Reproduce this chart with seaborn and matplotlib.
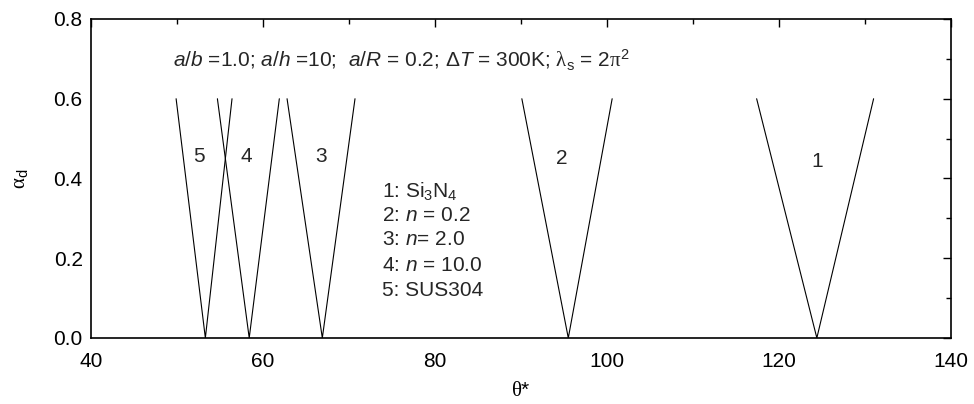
import matplotlib
matplotlib.use("Agg")
import matplotlib.pyplot as plt
from matplotlib.ticker import MultipleLocator, FormatStrFormatter
import pandas as pd
import seaborn as sns

# Instability regions: left edge, vertex, right edge of each V
curve_ids = ["1", "2", "3", "4", "5"]
theta_left = [117.4, 90.1, 62.8, 54.7, 49.9]
theta_vertex = [124.4, 95.5, 66.9, 58.4, 53.3]
theta_right = [131.0, 100.6, 70.7, 61.9, 56.4]
alpha_top = 0.6

# Curve number labels inside each region
label_theta = [124.4, 94.7, 66.7, 58.1, 52.6]
label_alpha = [0.443, 0.451, 0.454, 0.454, 0.454]

legend_lines = [r"1: Si$_3$N$_4$", r"2: $n$ = 0.2", r"3: $n$= 2.0",
                r"4: $n$ = 10.0", "5: SUS304"]
legend_alpha = [0.366, 0.308, 0.246, 0.183, 0.120]

rows = []
for cid, tl, tv, tr in zip(curve_ids, theta_left, theta_vertex, theta_right):
    rows += [(cid, 0, tl, alpha_top), (cid, 1, tv, 0.0), (cid, 2, tr, alpha_top)]
df = pd.DataFrame(rows, columns=["curve", "order", "theta", "alpha"])

sns.set_theme(style="white")
plt.rcParams.update({
    "font.family": ["Liberation Sans", "DejaVu Sans"],
    "mathtext.fontset": "custom",
    "mathtext.rm": "Liberation Sans",
    "mathtext.it": "Liberation Sans:italic",
    "mathtext.bf": "Liberation Sans:bold",
    "mathtext.sf": "Liberation Serif",   # serif Greek letters
})

fig = plt.figure(figsize=(9.74, 4.04), dpi=100)
ax = fig.add_axes([0.0934, 0.1634, 0.883, 0.7896])

sns.lineplot(data=df, x="theta", y="alpha", units="curve", estimator=None,
             sort=False, color="black", linewidth=0.8, ax=ax)

fs = 15
for cid, tx, ty in zip(curve_ids, label_theta, label_alpha):
    ax.text(tx, ty, cid, fontsize=fs, ha="center", va="center")

for txt, ty in zip(legend_lines, legend_alpha):
    ax.text(73.8, ty, txt, fontsize=fs, ha="left", va="center")

ax.text(49.5, 0.697,
        r"$a/b$ =1.0; $a/h$ =10;  $a/R$ = 0.2; $\mathrm{\Delta}T$ = 300K; "
        r"$\mathsf{\lambda}_{\rm s}$ = 2$\mathsf{\pi}^2$",
        fontsize=fs, ha="left", va="center")

ax.set_xlim(40, 140)
ax.set_ylim(0, 0.8)
ax.xaxis.set_major_locator(MultipleLocator(20))
ax.xaxis.set_minor_locator(MultipleLocator(10))
ax.yaxis.set_major_locator(MultipleLocator(0.2))
ax.yaxis.set_minor_locator(MultipleLocator(0.1))
ax.yaxis.set_major_formatter(FormatStrFormatter("%.1f"))
ax.tick_params(which="both", direction="in", top=True, right=True,
               labelsize=fs, colors="black")
ax.tick_params(axis="x", which="major", pad=10)
ax.tick_params(axis="y", which="major", pad=6)
ax.tick_params(which="major", length=6, width=1)
ax.tick_params(which="minor", length=3.5, width=1)
for sp in ax.spines.values():
    sp.set_visible(True)
    sp.set_color("black")
    sp.set_linewidth(1.2)

ax.set_xlabel(r"$\mathsf{\theta}$*", fontsize=fs, color="black", labelpad=7)
ax.set_ylabel(r"$\mathsf{\alpha}_{\rm d}$", fontsize=fs, color="black",
              labelpad=16)
ax.grid(False)

fig.savefig("out.png", dpi=100)
